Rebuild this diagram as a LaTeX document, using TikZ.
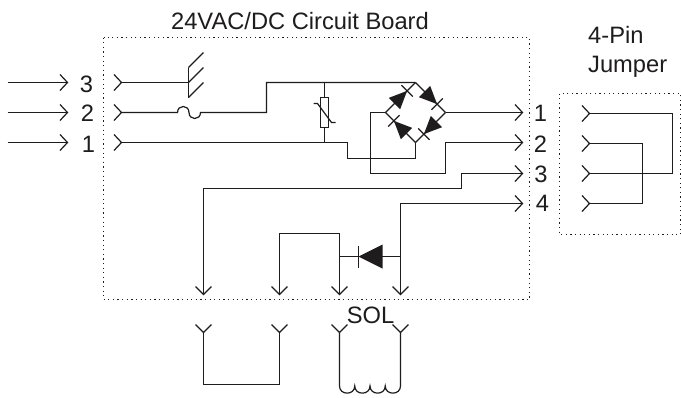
\documentclass[tikz,border=0pt]{standalone}
\usepackage{fontspec}
\setmainfont{Liberation Sans}
\usetikzlibrary{calc}
\definecolor{ink}{HTML}{1E1C1C}
\tikzset{
  x=1pt,y=-1pt,
  wire/.style={draw=ink,line width=1.2pt,line join=miter},
  dotbox/.style={draw=ink,line width=1.2pt,dash pattern=on 1.2pt off 3.4pt},
  lbl/.style={inner sep=0pt,text=ink,anchor=base,font=\fontsize{23.7}{28}\selectfont},
}
\newcommand\chevR[1]{\draw[wire] ([shift={(-7.5,-8)}]#1) -- (#1) -- ([shift={(-7.5,8)}]#1);}
\newcommand\chevD[1]{\draw[wire] ([shift={(-8,-8)}]#1) -- (#1) -- ([shift={(8,-8)}]#1);}
\newcommand\bdiode[2]{%
  \coordinate (ba) at ($(#1)!.30!(#2)$);
  \coordinate (ti) at ($(#1)!.72!(#2)$);
  \fill[ink] ($(ba)!8pt!90:(ti)$) -- ($(ba)!8pt!-90:(ti)$) -- (ti) -- cycle;
  \draw[wire] ($(ti)!8pt!90:(ba)$) -- ($(ti)!8pt!-90:(ba)$);
  \draw[wire] (#1) -- (#2);
}
\begin{document}
\begin{tikzpicture}
\useasboundingbox (0,0) rectangle (681,397);
\fill[white] (0,0) rectangle (681,397);
\begin{scope}[shift={(0.5,0.5)}]
% boxes
\coordinate (bTL) at (103,37); \coordinate (bBR) at (529,299);
\coordinate (jTL) at (559,93); \coordinate (jBR) at (680,234);
\draw[dotbox] (bTL) rectangle (bBR);
\draw[dotbox] (jTL) rectangle (jBR);
% titles
\node[lbl] (title) at (299.5,29) {24VAC/DC Circuit Board};
\node[lbl,anchor=base west] (pin) at (587.5,43) {4-Pin};
\node[lbl,anchor=base west] (jump) at (587.5,71.5) {Jumper};
\node[lbl] (sol) at (370,322.5) {SOL};
% numbers
\node[lbl] (l3) at (86,91.5) {3};
\node[lbl] (l2) at (87,121) {2};
\node[lbl] (l1) at (88,151.5) {1};
\node[lbl] (r1) at (540,120.5) {1};
\node[lbl] (r2) at (540,151.5) {2};
\node[lbl] (r3) at (540.5,182) {3};
\node[lbl] (r4) at (542,211) {4};
% incoming arrows
\foreach \n/\y in {3/82,2/112,1/142}{
  \coordinate (a\n) at (7,\y);
  \coordinate (b\n) at (67,\y);
  \coordinate (c\n) at (121,\y);
  \draw[wire] (a\n) -- (b\n);
  \chevR{b\n}
  \chevR{c\n}
}
% earth
\coordinate (e1) at (188,67); \coordinate (e2) at (188,82); \coordinate (e3) at (188,97);
\coordinate (e1t) at (203,52); \coordinate (e2t) at (203,67); \coordinate (e3t) at (203,82);
\draw[wire] (c3) -- (e2);
\draw[wire] (e1) -- (e3);
\draw[wire] (e1) -- (e1t);
\draw[wire] (e2) -- (e2t);
\draw[wire] (e3) -- (e3t);
% bridge corners
\coordinate (T) at (415,82); \coordinate (Rr) at (445,112);
\coordinate (Bt) at (415,142); \coordinate (Ll) at (385,112);
% line 2 with fuse
\coordinate (f1) at (177,112); \coordinate (f2) at (188.5,112); \coordinate (f3) at (200,112);
\draw[wire] (c2) -- (f1)
  .. controls ([yshift=8pt]f1) and ([yshift=8pt]f2) .. (f2)
  .. controls ([yshift=-8pt]f2) and ([yshift=-8pt]f3) .. (f3)
  -- (266,112) |- (T);
% line 1
\coordinate (k) at (347,142);
\draw[wire] (c1) -- (k) |- (415,158) -- (Bt);
% varistor
\coordinate (vt) at (324,82); \coordinate (vb) at (324,142);
\node[draw=ink,line width=1.2pt,minimum width=7.5pt,minimum height=30pt,inner sep=0pt,fill=white] (var) at (324,112) {};
\draw[wire] (vt) -- (var.north);
\draw[wire] (var.south) -- (vb);
\coordinate (s1) at (313,103); \coordinate (s2) at (317,103); \coordinate (s3) at (331,122); \coordinate (s4) at (335,122);
\draw[wire] (s1) -- (s2) -- (s3) -- (s4);
% diodes in bridge
\bdiode{Ll}{T}
\bdiode{T}{Rr}
\bdiode{Rr}{Bt}
\bdiode{Bt}{Ll}
% outputs
\coordinate (o1) at (522,112); \coordinate (o2) at (522,142);
\coordinate (o3) at (522,173); \coordinate (o4) at (522,203);
\draw[wire] (Rr) -- (o1);
\draw[wire] (Ll) -- (370,112) |- (445,173) |- (o2);
\coordinate (d3) at (203,294); \coordinate (d3c) at (461,188);
\draw[wire] (d3) |- (d3c) |- (o3);
\coordinate (d4) at (400,294);
\draw[wire] (d4) |- (o4);
\chevR{o1} \chevR{o2} \chevR{o3} \chevR{o4}
% lower
\coordinate (d1) at (279,294); \coordinate (d2) at (339,294);
\draw[wire] (d1) |- (339,233) -- (d2);
\chevD{d1} \chevD{d2} \chevD{d3} \chevD{d4}
% horizontal diode
\coordinate (dl) at (339,256); \coordinate (dr) at (400,256);
\draw[wire] (dl) -- (dr);
\coordinate (dtip) at (358,256); \coordinate (dbase) at (382,256);
\fill[ink] ([yshift=-12pt]dbase) -- ([yshift=12pt]dbase) -- (dtip) -- cycle;
\draw[wire] ([yshift=-11pt]dtip) -- ([yshift=11pt]dtip);
% bottom connectors
\coordinate (u1) at (203,332); \coordinate (u2) at (279,332);
\coordinate (u3) at (339,332); \coordinate (u4) at (400,332);
\chevD{u1} \chevD{u2} \chevD{u3} \chevD{u4}
\draw[wire] (u1) |- (279,384) -- (u2);
% coil
\coordinate (q0) at (339,385.5); \coordinate (q1) at (354.25,385.5);
\coordinate (q2) at (369.5,385.5); \coordinate (q3) at (384.75,385.5); \coordinate (q4) at (400,385.5);
\draw[wire] (u3) -- (q0)
  .. controls ([yshift=-9.5pt]q0) and ([yshift=-9.5pt]q1) .. (q1)
  .. controls ([yshift=-9.5pt]q1) and ([yshift=-9.5pt]q2) .. (q2)
  .. controls ([yshift=-9.5pt]q2) and ([yshift=-9.5pt]q3) .. (q3)
  .. controls ([yshift=-9.5pt]q3) and ([yshift=-9.5pt]q4) .. (q4) -- (u4);
% jumper
\coordinate (j1) at (589,113); \coordinate (j2) at (589,143);
\coordinate (j3) at (589,173); \coordinate (j4) at (589,203);
\draw[wire] (j1) -| (672,173) -- (j3);
\draw[wire] (j2) -| (642,203) -- (j4);
\chevR{j1} \chevR{j2} \chevR{j3} \chevR{j4}
\end{scope}
\end{tikzpicture}
\end{document}
